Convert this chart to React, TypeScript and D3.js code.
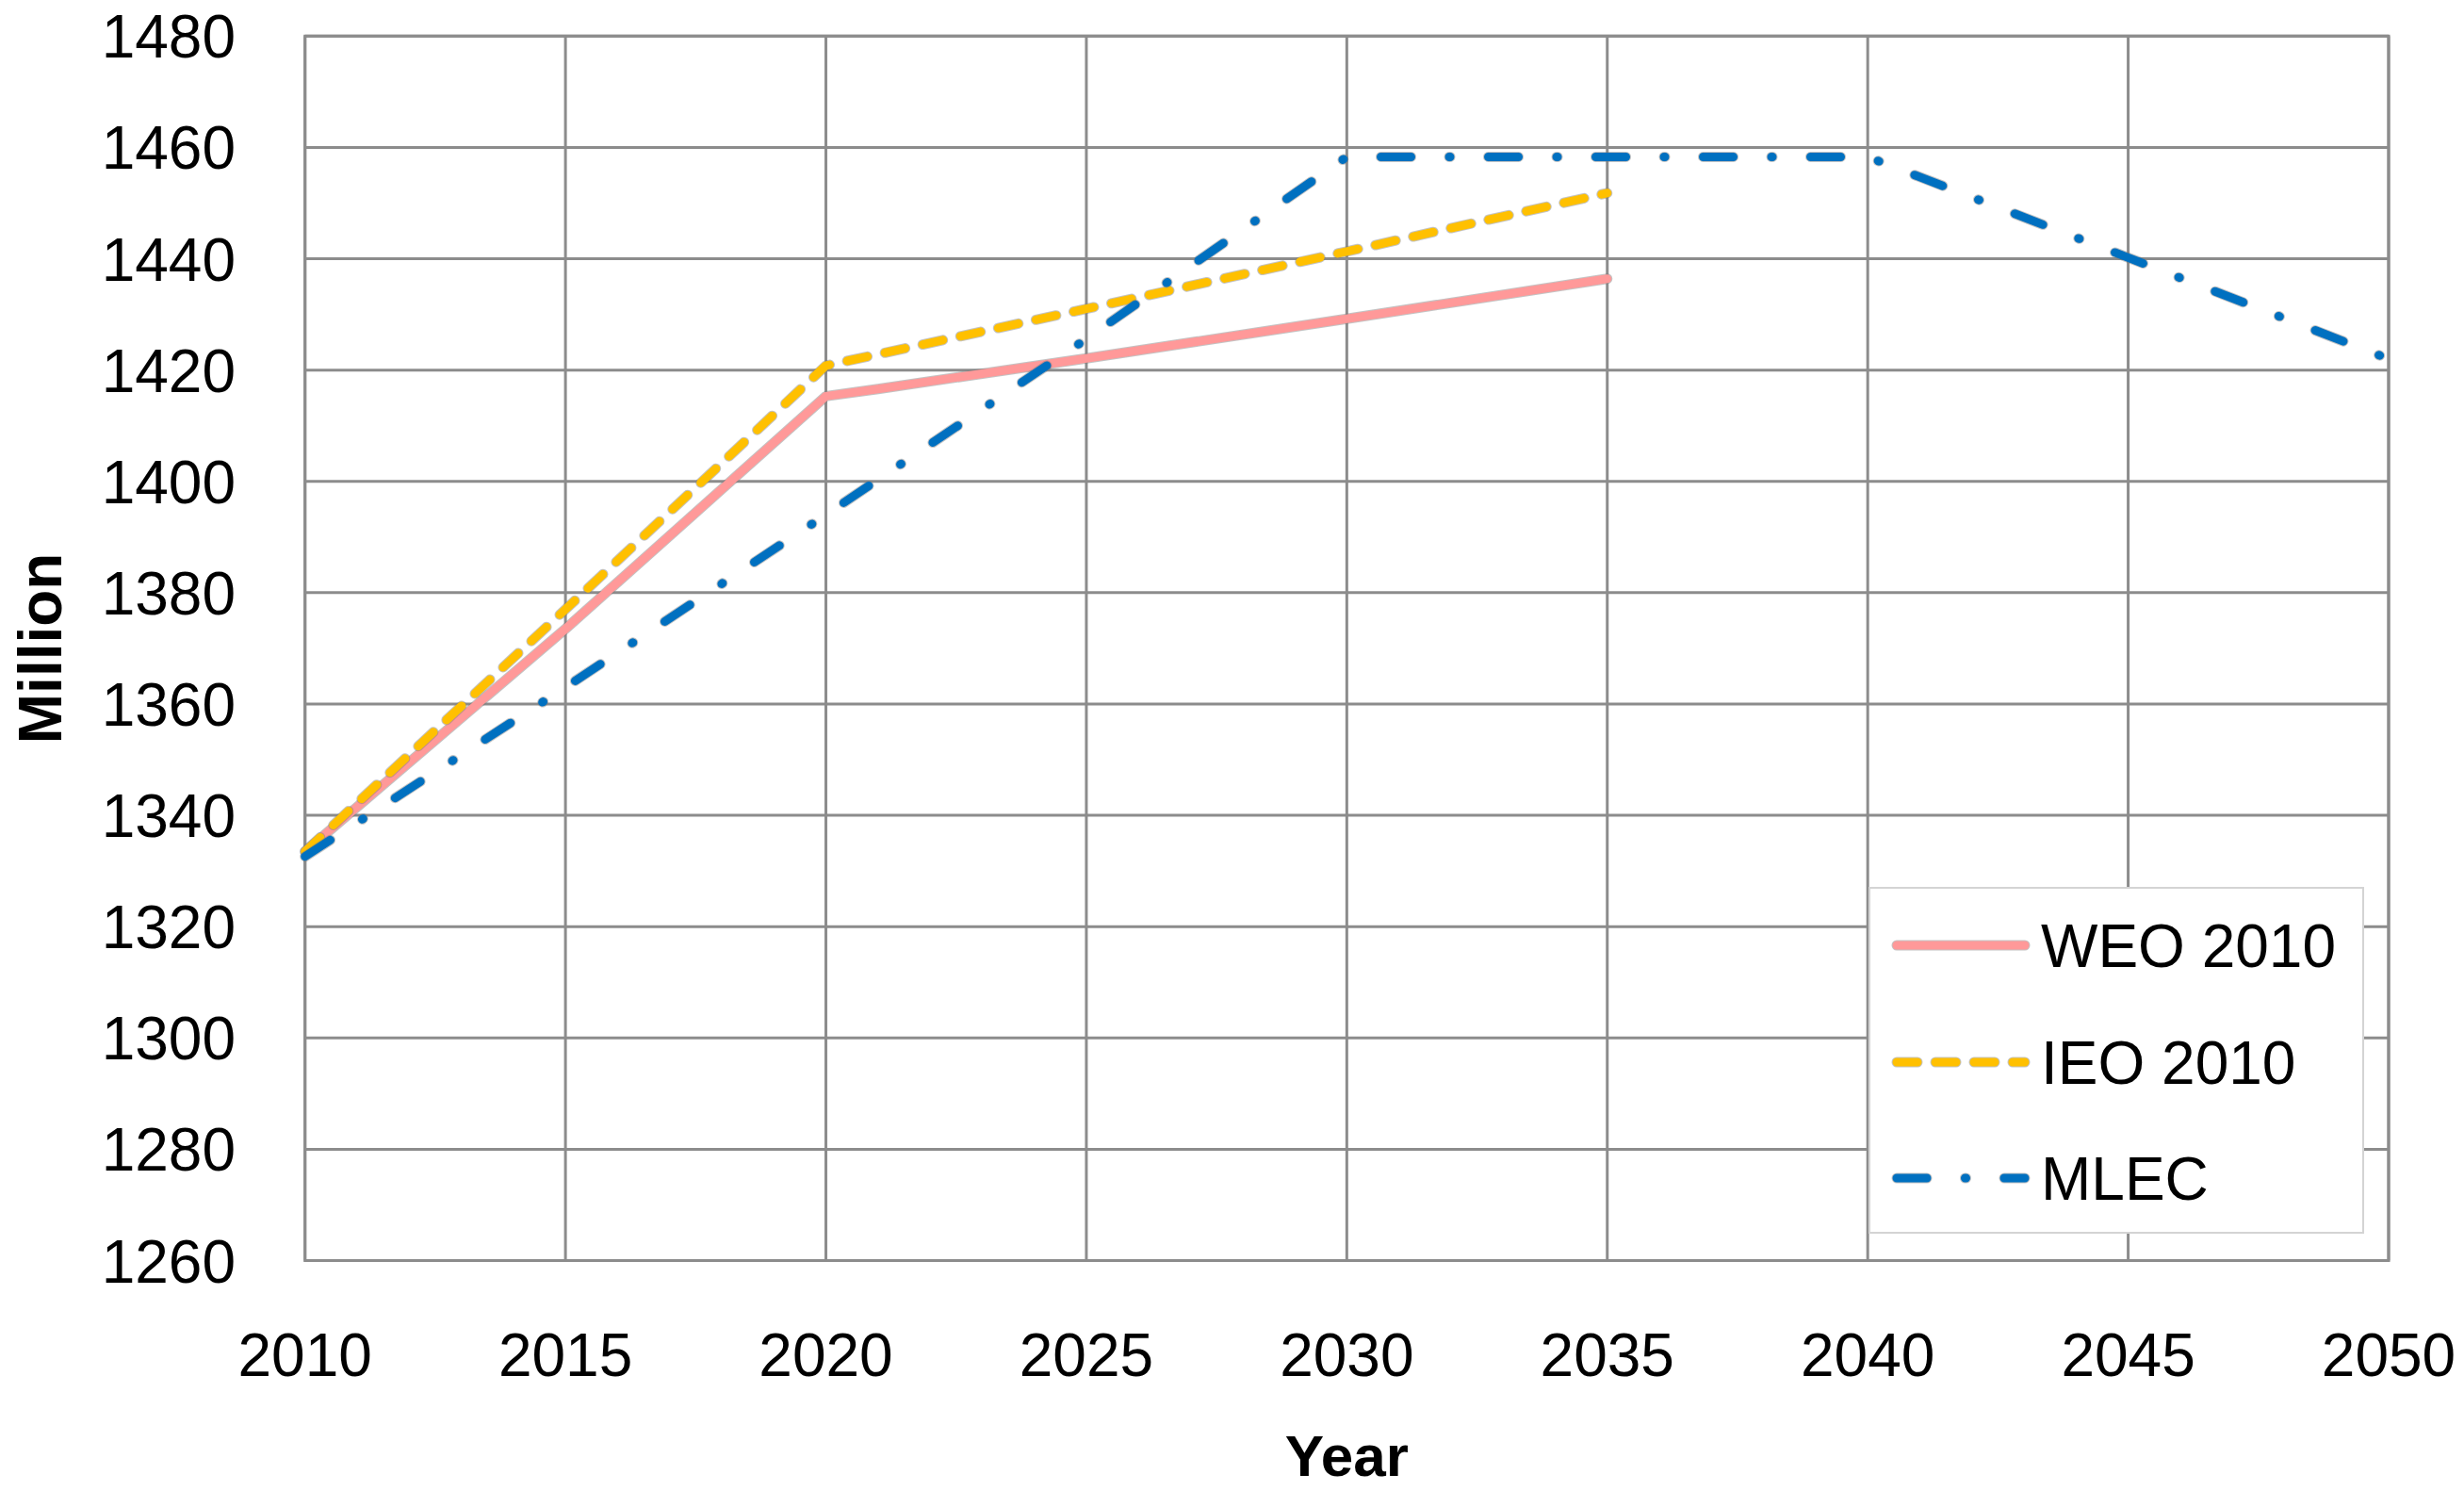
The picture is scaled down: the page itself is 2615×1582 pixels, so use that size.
import React from "react";
import * as d3 from "d3";

const xTicks = [2010, 2015, 2020, 2025, 2030, 2035, 2040, 2045, 2050];
const yTicks = [1260, 1280, 1300, 1320, 1340, 1360, 1380, 1400, 1420, 1440, 1460, 1480];

const weoYears = [2010, 2015, 2020, 2021, 2025, 2030, 2035];
const weoValues = [1333.5, 1373.5, 1415.3, 1416.6, 1422.1, 1429.2, 1436.4];

const ieoYears = [2010, 2015, 2020, 2025, 2030, 2035];
const ieoValues = [1333.5, 1377, 1420.8, 1431, 1441.3, 1451.8];

const mlecYears = [2010, 2015, 2020, 2025, 2030, 2035, 2040, 2045, 2050];
const mlecValues = [1332.6, 1363, 1394, 1425.6, 1458.3, 1458.3, 1458.3, 1440.2, 1422];

const seriesNames = ["WEO 2010", "IEO 2010", "MLEC"];

const W = 2615;
const H = 1582;
const FONT = "'Liberation Sans', Arial, sans-serif";

export default function App() {
  const x = d3.scaleLinear().domain([2010, 2050]).range([323.7, 2535]);
  const y = d3.scaleLinear().domain([1260, 1480]).range([1337.5, 38.3]);

  const toPts = (xs: number[], vs: number[]) => xs.map((yr, i) => [yr, vs[i]] as [number, number]);

  const line = d3
    .line<[number, number]>()
    .x((d) => x(d[0]))
    .y((d) => y(d[1]));

  const styles = [
    { color: "#FF9999", dash: undefined as string | undefined },
    { color: "#FFC000", dash: "22,19" },
    { color: "#0070C0", dash: "32,40.5,1,40.5" },
  ];

  const paths = [
    line(toPts(weoYears, weoValues)) || "",
    line(toPts(ieoYears, ieoValues)) || "",
    line(toPts(mlecYears, mlecValues)) || "",
  ];

  const [x0, x1] = x.range();
  const [yb, yt] = y.range();
  const grid = "#8c8c8c";

  const legendRows = [1003, 1127, 1250];

  return (
    <svg
      width={W}
      height={H}
      viewBox={`0 0 ${W} ${H}`}
      style={{ position: "absolute", left: 0, top: 0, background: "#fff" }}
    >
      <rect x={0} y={0} width={W} height={H} fill="#fff" />
      {yTicks.map((t) => (
        <line key={"gy" + t} x1={x0} x2={x1} y1={y(t)} y2={y(t)} stroke={grid} strokeWidth={3} />
      ))}
      {xTicks.map((t) => (
        <line key={"gx" + t} x1={x(t)} x2={x(t)} y1={yt} y2={yb} stroke={grid} strokeWidth={3} />
      ))}
      <rect x={x0} y={yt} width={x1 - x0} height={yb - yt} fill="none" stroke={grid} strokeWidth={3} />

      {yTicks.map((t) => (
        <text key={"ly" + t} x={250} y={y(t) + 23} textAnchor="end" fontFamily={FONT} fontSize={64} fill="#000">
          {t}
        </text>
      ))}
      {xTicks.map((t) => (
        <text key={"lx" + t} x={x(t)} y={1460} textAnchor="middle" fontFamily={FONT} fontSize={64} fill="#000">
          {t}
        </text>
      ))}

      {paths.map((p, i) => (
        <g key={"s" + i}>
          <path
            d={p}
            fill="none"
            stroke="#7a7a7a"
            strokeOpacity={0.45}
            strokeWidth={11}
            strokeDasharray={styles[i].dash}
            strokeLinecap="round"
            strokeLinejoin="round"
          />
          <path
            d={p}
            fill="none"
            stroke={styles[i].color}
            strokeWidth={9}
            strokeDasharray={styles[i].dash}
            strokeLinecap="round"
            strokeLinejoin="round"
          />
        </g>
      ))}

      <rect x={1984} y={942} width={524} height={366} fill="#fff" stroke="#d4d4d4" strokeWidth={2} />
      {seriesNames.map((name, i) => (
        <g key={"lg" + i}>
          <line
            x1={2013}
            x2={2149}
            y1={legendRows[i]}
            y2={legendRows[i]}
            stroke="#7a7a7a"
            strokeOpacity={0.45}
            strokeWidth={11}
            strokeDasharray={styles[i].dash}
            strokeLinecap="round"
          />
          <line
            x1={2013}
            x2={2149}
            y1={legendRows[i]}
            y2={legendRows[i]}
            stroke={styles[i].color}
            strokeWidth={9}
            strokeDasharray={styles[i].dash}
            strokeLinecap="round"
          />
          <text x={2166} y={legendRows[i] + 23} fontFamily={FONT} fontSize={64} fill="#000">
            {name}
          </text>
        </g>
      ))}

      <text x={(x0 + x1) / 2} y={1566} textAnchor="middle" fontFamily={FONT} fontWeight="bold" fontSize={62} fill="#000">
        Year
      </text>
      <text
        transform={`translate(65, ${(yt + yb) / 2}) rotate(-90)`}
        textAnchor="middle"
        fontFamily={FONT}
        fontWeight="bold"
        fontSize={64}
        fill="#000"
      >
        Million
      </text>
    </svg>
  );
}
